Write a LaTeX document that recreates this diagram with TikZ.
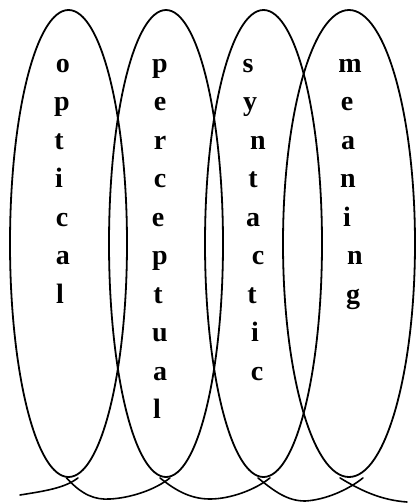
\documentclass[tikz,border=0pt]{standalone}
\usepackage{fontspec}
\setmainfont{Liberation Serif}
\usetikzlibrary{shapes.geometric}
\begin{document}
\begin{tikzpicture}[x=1pt,y=-1pt,
  oval/.style={draw, ellipse, line width=1.8pt, inner sep=0pt, minimum height=467pt},
  letter/.style={font=\fontsize{28}{28}\selectfont, inner sep=0pt, anchor=base},
  swoop/.style={line width=1.6pt, line cap=round}]
\useasboundingbox (0,0) rectangle (416,504);
% ovals
\node[oval, minimum width=117pt] (e1) at (68.5,243.5) {};
\node[oval, minimum width=114pt] (e2) at (166,243.5) {};
\node[oval, minimum width=117pt] (e3) at (263.5,243.5) {};
\node[oval, minimum width=132pt] (e4) at (349,243.5) {};
% letters
\foreach \col/\cx/\lst in {
  opt/61/{o/2,p/1,t/-2,i/-2,c/1,a/2,l/-1},
  per/160/{p/0,e/0,r/0,c/0,e/-2,p/0,t/-2,u/0,a/0,l/-3},
  syn/253/{s/-5,y/-3,n/5,t/0,a/0,c/5,t/-1,i/2,c/4},
  mea/348/{m/2,e/-1,a/0,n/0,i/-1,n/7,g/5}}{
  \foreach \l/\dx [count=\i] in \lst {
    \node[letter] (\col-\i) at (\cx+\dx, 72+38.5*\i-38.5) {\textbf{\l}};
  }
}
% bottom swoops
\coordinate (start) at (20,495);
\coordinate (finish) at (407,502);
\draw[swoop] (start) .. controls (45,491) and (65,488) .. ([xshift=9.5pt]e1.south);
\draw[swoop] ([xshift=-2pt]e1.south) .. controls (82,495) and (95,500) .. (110,499)
  .. controls (130,498) and (155,490) .. ([xshift=4pt]e2.south);
\draw[swoop] ([xshift=-6pt]e2.south) .. controls (175,490) and (190,499) .. (210,499)
  .. controls (230,499) and (255,490) .. ([xshift=6.5pt]e3.south);
\draw[swoop] ([xshift=-5.5pt]e3.south) .. controls (275,492) and (288,501) .. (305,501)
  .. controls (325,500) and (348,490) .. ([xshift=14pt]e4.south);
\draw[swoop] ([xshift=-9pt]e4.south) .. controls (360,490) and (380,500) .. (finish);
\end{tikzpicture}
\end{document}
